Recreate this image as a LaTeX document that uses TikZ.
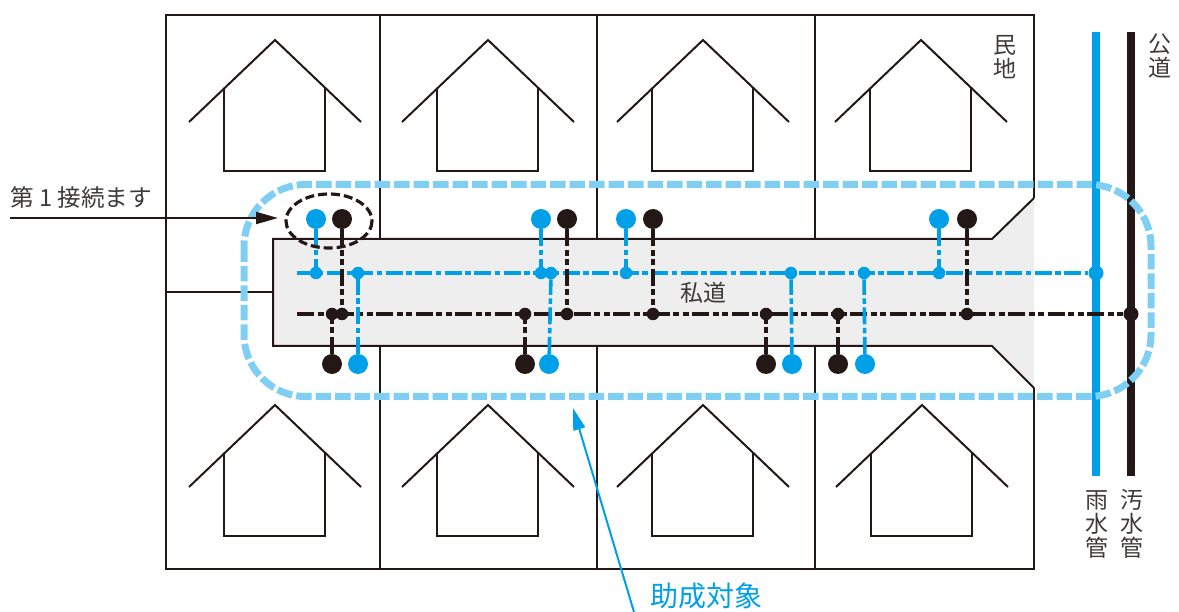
\documentclass[tikz,border=0pt]{standalone}
\usepackage{fontspec}
\setmainfont{Noto Sans CJK JP}
\usetikzlibrary{arrows.meta}
\definecolor{pipeblue}{HTML}{00A0E9}
\definecolor{pipeblack}{HTML}{231815}
\definecolor{zoneblue}{HTML}{7FCEF4}
\definecolor{roadgray}{HTML}{EEEEEE}
\definecolor{labelgray}{HTML}{3E3A39}
\tikzset{
  wall/.style={draw=pipeblack,line width=2pt,line join=miter},
  bluepipe/.style={draw=pipeblue,line width=3.6pt,dash pattern=on 17pt off 3.5pt on 5.5pt off 3.5pt},
  blackpipe/.style={draw=pipeblack,line width=4.4pt,dash pattern=on 17pt off 3.5pt on 6pt off 3.5pt on 6pt off 3.5pt},
  bluemain/.style={draw=pipeblue,line width=7.5pt},
  blackmain/.style={draw=pipeblack,line width=7.5pt},
  bluecap/.style={circle,fill=pipeblue,inner sep=0pt,minimum size=20pt},
  blackcap/.style={circle,fill=pipeblack,inner sep=0pt,minimum size=20pt},
  bluejoin/.style={circle,fill=pipeblue,inner sep=0pt,minimum size=12.5pt},
  blackjoin/.style={circle,fill=pipeblack,inner sep=0pt,minimum size=12.5pt},
  mainjoin b/.style={circle,fill=pipeblue,inner sep=0pt,minimum size=15pt},
  mainjoin k/.style={circle,fill=pipeblack,inner sep=0pt,minimum size=15pt},
  zone/.style={draw=zoneblue,line width=7pt,rounded corners=62pt,dash pattern=on 15.5pt off 4pt},
  lbl/.style={text=labelgray,font=\fontsize{23}{24}\selectfont,inner sep=0pt,align=center},
}
\begin{document}
\begin{tikzpicture}[x=1pt,y=-1pt]
\useasboundingbox (0,0) rectangle (1179,612);
% road
\fill[roadgray] (273,239) -- (992,239) -- (1034,198) -- (1034,388) -- (992,346) -- (273,346) -- cycle;
% plots
\draw[wall] (1034,198) -- (1034,15) -- (166,15) -- (166,569) -- (1034,569) -- (1034,388);
\draw[wall] (1034,198) -- (992,239) -- (273,239) -- (273,346) -- (992,346) -- (1034,388);
\draw[wall] (166,292) -- (273,292);
\foreach \x in {380,597,815}{
  \draw[wall] (\x,15) -- (\x,239);
  \draw[wall] (\x,346) -- (\x,569);
}
% houses
\foreach \x in {275,488,703,921}{
  \draw[wall] (\x-86,122) -- (\x,40) -- (\x+86,122);
  \draw[wall] (\x-51,88) -- (\x-51,171) -- (\x+50,171) -- (\x+50,88);
}
\foreach \x in {275,488,703,922}{
  \draw[wall] (\x-86,487) -- (\x,405) -- (\x+86,487);
  \draw[wall] (\x-51,453) -- (\x-51,536) -- (\x+50,536) -- (\x+50,453);
}
% mains
\coordinate (bm1) at (1096,32); \coordinate (bm2) at (1096,476);
\coordinate (km1) at (1131,32); \coordinate (km2) at (1131,476);
\draw[bluemain] (bm1) -- (bm2);
\draw[blackmain] (km1) -- (km2);
% run lines
\coordinate (bs) at (297,273); \coordinate (ks) at (297,314);
\node[mainjoin b] (bj) at (1096,273) {};
\node[mainjoin k] (kj) at (1131,314) {};
\draw[bluepipe] (bs) -- (bj);
\draw[blackpipe] (ks) -- (kj);
% blue connections
\foreach \n/\x/\y/\jx in {a/316/219/316,b/358/364/358,c/541/219/541,d/549/364/551,e/626/219/626,f/792/364/791,g/865/364/864,h/939/219/939}{
  \node[bluecap] (bc\n) at (\x,\y) {};
  \node[bluejoin] (bn\n) at (\jx,273) {};
  \draw[bluepipe] (bc\n) -- (bn\n);
}
% black connections
\foreach \n/\x/\y/\jx in {a/342/219/342,b/332/364/332,c/567/219/567,d/525/364/525,e/653/219/653,f/766/364/766,g/838/364/838,h/967/219/967}{
  \node[blackcap] (kc\n) at (\x,\y) {};
  \node[blackjoin] (kn\n) at (\jx,314) {};
  \draw[blackpipe] (kc\n) -- (kn\n);
}
% ellipse and zone
\draw[draw=pipeblack,line width=3.2pt,dash pattern=on 9pt off 4pt] (329,221) ellipse [x radius=43,y radius=27];
\draw[zone] (244,184.5) rectangle (1151,396.5);
% arrows
\coordinate (fs) at (10,218); \coordinate (ft) at (278,218);
\draw[draw=pipeblack,line width=2pt,-{Triangle[length=22pt,width=12pt]}] (fs) -- (ft);
\coordinate (ss) at (634,612); \coordinate (st) at (573,408);
\draw[draw=pipeblue,line width=2pt,-{Triangle[length=22pt,width=12pt]}] (ss) -- (st);
% labels
\node[lbl,anchor=west,font=\fontsize{23.6}{26}\selectfont] (first) at (10,197) {第 1 接続ます};
\node[lbl] (road) at (703,293) {私道};
\node[lbl] (land) at (1005,57) {民\\地};
\node[lbl] (public) at (1160,56) {公\\道};
\node[lbl] (rain) at (1097,524) {雨\\水\\管};
\node[lbl] (sewer) at (1132,524) {汚\\水\\管};
\node[lbl,text=pipeblue,font=\fontsize{28}{30}\selectfont] (subsidy) at (706,596) {助成対象};
\end{tikzpicture}
\end{document}
